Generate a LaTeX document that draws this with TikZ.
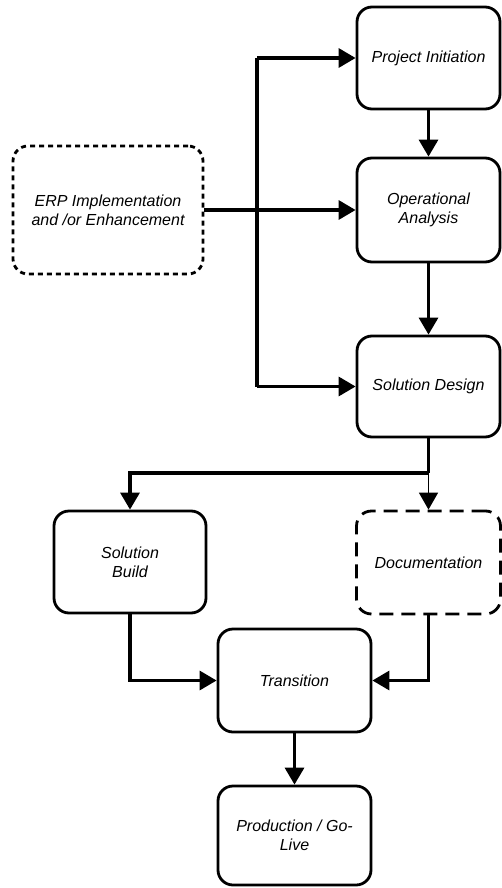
\documentclass[tikz,border=0pt]{standalone}
\usepackage{fontspec}
\setmainfont{Liberation Sans}
\usetikzlibrary{arrows.meta}
\tikzset{
  stage/.style={draw, line width=2.8pt, rounded corners=15pt, align=center,
    font=\itshape\fontsize{16}{19}\selectfont, inner sep=2pt},
  source/.style={stage, dash pattern=on 5pt off 4pt},
  optional/.style={stage, dash pattern=on 14pt off 8pt},
  flow/.style={line width=3.3pt, -{Triangle[length=17pt,width=19pt]}},
  lightflow/.style={line width=1.6pt, -{Triangle[length=17pt,width=19pt]}},
  plain/.style={line width=3.3pt}
}
\begin{document}
\begin{tikzpicture}[x=1pt,y=-1pt]
\useasboundingbox (0,0) rectangle (502,888);

% process stages
\node[stage, minimum width=143pt, minimum height=102pt] (pi) at (428.5,58) {Project Initiation};
\node[stage, minimum width=143pt, minimum height=104pt] (oa) at (428.5,210) {Operational\\Analysis};
\node[stage, minimum width=143pt, minimum height=101pt] (sd) at (428.5,386.5) {Solution Design};
\node[source, minimum width=190pt, minimum height=128pt] (erp) at (108,210) {ERP Implementation\\and /or Enhancement};
\node[stage, minimum width=152pt, minimum height=102pt] (sb) at (130,562) {Solution\\Build};
\node[optional, minimum width=144pt, minimum height=103pt] (doc) at (428.5,562.5) {Documentation};
\node[stage, minimum width=153pt, minimum height=103pt] (tr) at (294.5,680.5) {Transition};
\node[stage, minimum width=153pt, minimum height=99pt] (pg) at (294.5,835.5) {Production / Go-\\Live};

% branching points
\coordinate (spineTop) at (257,58);
\coordinate (spineBot) at (257,386.5);
\coordinate (split) at (428.5,473);

% entry spine feeding the first stages
\draw[plain] (spineTop) -- (spineBot);
\draw[flow] (spineTop) -- (pi.west);
\draw[flow] (spineBot) -- (sd.west);
\draw[flow] (erp.east) -- (oa.west);

% main sequence
\draw[flow] (pi.south) -- (oa.north);
\draw[flow] (oa.south) -- (sd.north);
\draw[plain] (sd.south) -- (split);
\draw[flow] (split) -| (sb.north);
\draw[lightflow] (split) -- (doc.north);
\draw[flow] (sb.south) |- (tr.west);
\draw[flow] (doc.south) |- (tr.east);
\draw[flow] (tr.south) -- (pg.north);
\end{tikzpicture}
\end{document}
